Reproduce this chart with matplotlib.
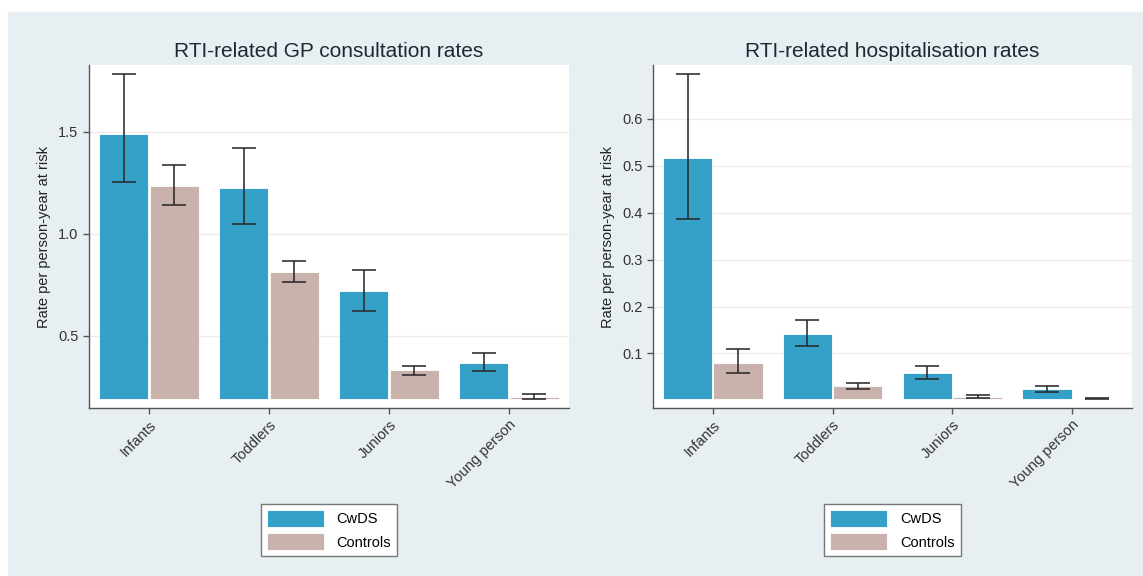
import numpy as np
import matplotlib.pyplot as plt
from matplotlib.patches import Rectangle

plt.rcParams['font.family'] = ['Liberation Sans', 'DejaVu Sans']

groups = ['Infants', 'Toddlers', 'Juniors', 'Young person']
series = ['CwDS', 'Controls']

# GP consultations: rate, lower CI, upper CI
gp_cwds = [1.492, 1.226, 0.717, 0.367]
gp_cwds_lo = [1.252, 1.050, 0.622, 0.325]
gp_cwds_hi = [1.786, 1.420, 0.820, 0.416]
gp_ctrl = [1.236, 0.812, 0.330, 0.200]
gp_ctrl_lo = [1.139, 0.763, 0.305, 0.187]
gp_ctrl_hi = [1.337, 0.866, 0.351, 0.213]

# Hospitalisations: rate, lower CI, upper CI
hosp_cwds = [0.516, 0.141, 0.058, 0.025]
hosp_cwds_lo = [0.387, 0.115, 0.046, 0.017]
hosp_cwds_hi = [0.696, 0.171, 0.074, 0.031]
hosp_ctrl = [0.079, 0.030, 0.008, 0.0037]
hosp_ctrl_lo = [0.058, 0.025, 0.005, 0.0025]
hosp_ctrl_hi = [0.109, 0.036, 0.011, 0.0048]

gp_ticks = [0.5, 1.0, 1.5]
hosp_ticks = [0.1, 0.2, 0.3, 0.4, 0.5, 0.6]

c_cwds = '#35a1c9'
c_ctrl = '#c9b2ac'
bg = '#e8eff2'


def panel(ax, title, a, a_lo, a_hi, b, b_lo, b_hi, ticks):
    x = np.arange(len(groups))
    lo_all = min(a_lo + b_lo)
    hi_all = max(a_hi + b_hi)
    base = lo_all
    for off, v, lo, hi, col, lab in [(-0.21, a, a_lo, a_hi, c_cwds, series[0]),
                                     (0.21, b, b_lo, b_hi, c_ctrl, series[1])]:
        v = np.array(v)
        ax.bar(x + off, v - base, bottom=base, width=0.41, color=col,
               edgecolor='white', linewidth=0.6, label=lab, zorder=2)
        ax.errorbar(x + off, v, yerr=[v - np.array(lo), np.array(hi) - v],
                    fmt='none', ecolor='#2a2a2a', elinewidth=1.15,
                    capsize=8.5, capthick=1.15, zorder=3)
    pad = 0.027 * (hi_all - lo_all)
    ax.set_ylim(lo_all - pad, hi_all + pad)
    ax.set_xlim(-0.5, len(groups) - 0.5)
    ax.set_yticks(ticks)
    ax.set_yticklabels(['%.1f' % t for t in ticks])
    ax.set_xticks(x)
    ax.set_xticklabels(groups, rotation=45, ha='right', va='top',
                       rotation_mode='anchor', fontsize=11)
    ax.yaxis.grid(True, color='#ececec', linewidth=1, zorder=0)
    ax.set_axisbelow(True)
    for s in ['top', 'right']:
        ax.spines[s].set_visible(False)
    for s in ['left', 'bottom']:
        ax.spines[s].set_color('#555555')
        ax.spines[s].set_linewidth(1)
    ax.tick_params(colors='#555555', labelcolor='#333333', labelsize=10.5,
                   length=4, width=1)
    ax.tick_params(axis='x', pad=3)
    ax.set_ylabel('Rate per person-year at risk', fontsize=10.5, color='#222222',
                  labelpad=5)
    ax.set_title(title, fontsize=15, color='#1e2833', pad=6)
    leg = ax.legend(loc='upper center', bbox_to_anchor=(0.5, -0.28),
                    fancybox=False, edgecolor='#777777', fontsize=10.5,
                    handlelength=3.9, handleheight=1.4, labelspacing=0.45,
                    handletextpad=0.9, borderpad=0.4, borderaxespad=0,
                    framealpha=1)
    leg.get_frame().set_linewidth(1)


fig = plt.figure(figsize=(11.43, 5.76), dpi=100)
fig.patch.set_facecolor('white')
fig.patches.append(Rectangle((8 / 1143, 0), 1, 1 - 12 / 576,
                             transform=fig.transFigure, color=bg, zorder=-10))

ax1 = fig.add_axes([89 / 1143, 1 - 408 / 576, 480 / 1143, 343 / 576])
panel(ax1, 'RTI-related GP consultation rates', gp_cwds, gp_cwds_lo, gp_cwds_hi,
      gp_ctrl, gp_ctrl_lo, gp_ctrl_hi, gp_ticks)

ax2 = fig.add_axes([653 / 1143, 1 - 408 / 576, 479 / 1143, 343 / 576])
panel(ax2, 'RTI-related hospitalisation rates', hosp_cwds, hosp_cwds_lo,
      hosp_cwds_hi, hosp_ctrl, hosp_ctrl_lo, hosp_ctrl_hi, hosp_ticks)

plt.savefig('out.png', dpi=100)
